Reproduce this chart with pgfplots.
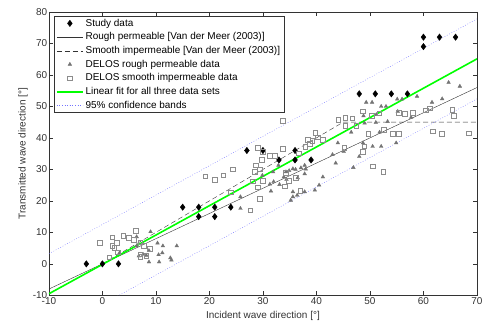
\documentclass[border=0pt]{standalone}
\usepackage{fontspec}
\setmainfont{Liberation Sans}
\usepackage{pgfplots}
\pgfplotsset{compat=1.18}
\definecolor{tri}{gray}{0.45}
\definecolor{sqc}{gray}{0.55}
\definecolor{fitgreen}{rgb}{0,1,0}
\definecolor{bandblue}{rgb}{0.45,0.45,1}
\begin{document}
\begin{tikzpicture}
\begin{axis}[name=ax, scale only axis, width=429pt, height=284pt,
  xmin=-10, xmax=70, ymin=-10, ymax=80,
  xtick={-10,0,...,70}, ytick={-10,0,...,80},
  tick align=inside, tick pos=both, major tick length=4pt,
  axis line style={black!80}, every tick/.style={black!80, thin},
  /pgf/number format/assume math mode=true,
  ticklabel style={font=\fontsize{10}{12}\selectfont, text=black!80},
  xticklabel style={inner sep=1.5pt},
  yticklabel style={inner sep=1.5pt},
  every axis x label/.style={at={(axis description cs:0.5,-0.074)}, anchor=center},
  every axis y label/.style={at={(axis description cs:-0.0606,0.5)}, rotate=90, anchor=center},
  label style={font=\fontsize{10}{12}\selectfont, text=black!80},
  xlabel={Incident wave direction [°]},
  ylabel={Transmitted wave direction [°]},
  legend image code/.code={\draw[mark repeat=2,mark phase=2,#1] plot coordinates {(0pt,0pt) (13pt,0pt) (26pt,0pt)};},
  legend cell align=left,
  legend style={at={(axis description cs:0.0117,0.986)}, anchor=north west,
    draw=black!80, fill=white, font=\fontsize{10}{12}\selectfont,
    inner xsep=2pt, inner ysep=1.5pt, row sep=2.2pt,
    nodes={inner ysep=0.5pt, text height=8pt, text depth=2.5pt}},
]
% Study data
\addplot[only marks, mark=diamond*, mark size=3.2pt, black, mark options={fill=black}] coordinates {
(-3,0) (0,0) (3,0) (15,18) (18,18) (18,15) (21,18) (21,15) (24,18)
(27,36) (30,36) (33,33) (36,36) (36,33) (39,33)
(48,54) (51,54) (54,54) (57,54) (60,72) (60,69) (63,72) (66,72)};
\addlegendentry{Study data}
% Rough permeable Van der Meer
\addplot[black!80, thin] coordinates {(-10,-8) (70,56)};
\addlegendentry{Rough permeable [Van der Meer (2003)]}
% Smooth impermeable Van der Meer
\addplot[black!80, thin, dash pattern=on 5pt off 3pt] coordinates {(0,0) (45,45) (70,45)};
\addlegendentry{Smooth impermeable [Van der Meer (2003)]}
% DELOS rough permeable
\addplot[only marks, mark=triangle*, mark size=2.1pt, tri, mark options={fill=tri, draw=tri}] coordinates {
(3.2,3.5) (6.4,8.6) (6.4,5.7) (6.8,2.5) (7.6,3.0) (8.2,2.7) (8.7,0.6) (8.7,4.2)
(9,10.2) (10.3,6.6) (10.6,0.6) (10.5,2.9) (11.2,3.5) (11.3,5.7) (12.7,1.9) (12.9,1.2) (13.9,5.7)
(25.8,21.3) (25.8,17.6) (29.9,28.1) (31.9,29.2) (32.9,31.3) (33.9,27.6) (34.4,26.8) (34.3,29.2)
(34.9,29.6) (35.6,30.2) (36.1,30) (37.8,31.3) (37.8,28.6) (41.2,27.6) (31.3,25.3) (32,26.1)
(35.6,22.9) (35.2,20.2) (35.6,21.3) (36.4,21.8) (37.8,22.9) (39.7,23.4) (40.5,25) (46.9,30.6)
(33.1,25.2) (31.5,23.1) (37.1,30.5) (38,30.1) (36.5,27.3)
(43,34.7) (43.6,32) (44,38.4) (45.1,35.7) (46.5,41.8) (48,34.1) (48.7,38.4) (49,44.7) (48.8,47)
(49.3,51.3) (50.4,51.3) (50.5,37.3) (51.2,47.4) (51.1,44.9) (51.8,41.8) (52.1,50) (53,50)
(52.1,37.3) (53.3,45.2) (54.9,38.4) (55.1,52.3) (56,52.3) (55.2,48.4) (57.7,46.5) (58.8,53.2)
(61.6,51.3) (63.5,52.4) (64.7,57.6) (66.8,56.4)};
\addlegendentry{DELOS rough permeable data}
% DELOS smooth impermeable
\addplot[only marks, mark=square, mark size=2.3pt, sqc, mark options={draw=sqc, fill=none}] coordinates {
(-0.5,6.7) (1.8,8.5) (1.8,5.8) (2.7,6.7) (2.2,5.2) (3.9,9.0) (4.9,8.4) (6.2,10.6) (5.8,7.7)
(7.1,6.9) (7.7,5.7) (8.8,4.8) (1.3,2.1) (2.9,3.7) (7.1,3.1) (7.1,2.3) (8.2,2.5)
(19.2,27.8) (21,26.8) (22.6,28.2) (24.3,30.1) (24,22.7) (27.6,17) (28.6,31.3) (28.5,29.2)
(29.4,30.1) (29,24.4) (30,26.5) (29.4,20.7) (28.1,26.2) (29.8,33.1) (31.3,34.4) (32.2,34.4)
(29,36.8) (30,35.7) (33.7,36.5) (33.7,45.4) (34.1,24.6) (34.3,28.9) (34.8,26.4) (36.1,27.4)
(36.7,35.2) (37,23.3) (37.9,37.3) (38.4,39.4) (38.7,38.2) (39.2,39.2) (40.2,40.2) (39.8,41.6)
(41.2,39.4) (44.1,45.8) (45.4,46.5) (46.7,46.3) (47.4,43.9) (45.4,43.9) (48.6,48.5) (50.3,47)
(51.7,47.9) (49.7,41.3) (52.6,42.6) (45.2,36.8) (48.6,35.7) (48.9,37.4) (50.5,31) (52.5,29.2)
(55.4,48.1) (58,48.1) (60.4,48.8) (61.2,49.5) (65.4,48.9) (65.7,47) (61.7,42.1) (63.4,41.3)
(68.5,41.5) (54.2,41.3) (55.4,41.3) (56.5,47.6)};
\addlegendentry{DELOS smooth impermeable data}
% Linear fit
\addplot[draw=fitgreen, line width=1.6pt] coordinates {(-10,-9.5) (70,65.1)};
\addlegendentry{Linear fit for all three data sets}
% Confidence bands
\addplot[draw=bandblue, thin, dash pattern=on 0.8pt off 1.8pt] coordinates {(-10,3.2) (70,77.8)};
\addlegendentry{95\% confidence bands}
\addplot[draw=bandblue, thin, dash pattern=on 0.8pt off 1.8pt, forget plot] coordinates {(-10,-22.2) (70,52.4)};
\end{axis}
\path ([shift={(-49pt,-31pt)}]ax.south west) rectangle ([shift={(6pt,12pt)}]ax.north east);
\end{tikzpicture}
\end{document}
